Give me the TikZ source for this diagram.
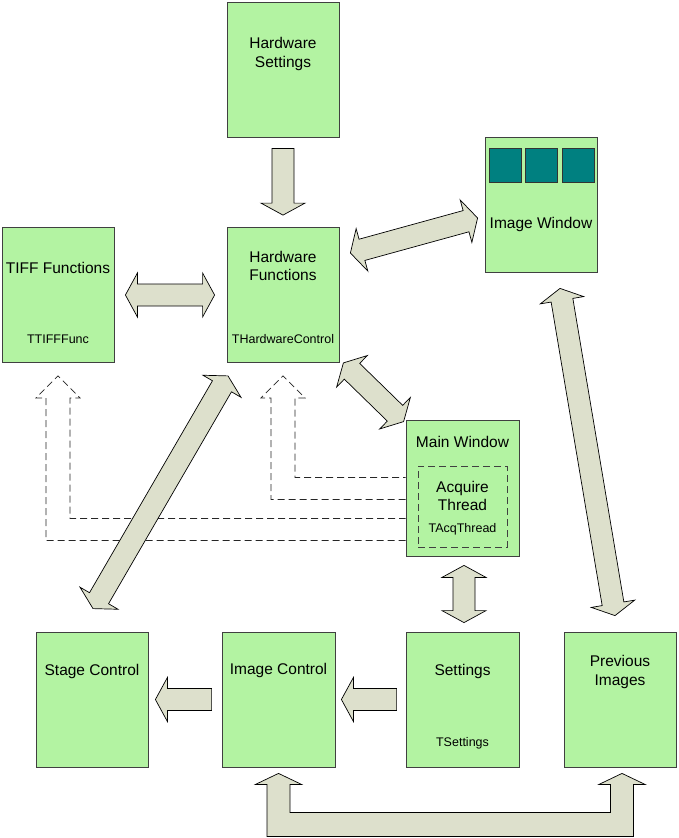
\documentclass[tikz,border=0pt]{standalone}
\usepackage{fontspec}
\setmainfont{Liberation Sans}
\usepackage{tikz}
\usetikzlibrary{calc,positioning}
\definecolor{boxgreen}{RGB}{179,243,162}
\definecolor{arrowgrey}{RGB}{221,224,204}
\definecolor{edgegrey}{RGB}{64,64,64}
\definecolor{thumbteal}{RGB}{0,128,128}
% block arrow, tail #1 to tip #2
\newcommand{\fatone}[2]{%
  \coordinate (hB) at ($(#2)!12pt!(#1)$);
  \draw[fat] ($(#1)!11pt!-90:(#2)$) -- ($(hB)!11pt!90:(#1)$) -- ($(hB)!22pt!90:(#1)$)
    -- (#2) -- ($(hB)!22pt!-90:(#1)$) -- ($(hB)!11pt!-90:(#1)$) -- ($(#1)!11pt!90:(#2)$) -- cycle;}
% block arrow with two heads
\newcommand{\fattwo}[2]{%
  \coordinate (hA) at ($(#1)!12pt!(#2)$);
  \coordinate (hB) at ($(#2)!12pt!(#1)$);
  \draw[fat] (#1) -- ($(hA)!22pt!-90:(#2)$) -- ($(hA)!11pt!-90:(#2)$) -- ($(hB)!11pt!90:(#1)$)
    -- ($(hB)!22pt!90:(#1)$) -- (#2) -- ($(hB)!22pt!-90:(#1)$) -- ($(hB)!11pt!-90:(#1)$)
    -- ($(hA)!11pt!90:(#2)$) -- ($(hA)!22pt!90:(#2)$) -- cycle;}

\begin{document}
\begin{tikzpicture}[x=1pt, y=-1pt,
  box/.style={draw=edgegrey, fill=boxgreen, line width=0.8pt,
              minimum width=112pt, minimum height=135pt, inner sep=0pt},
  thumb/.style={draw=black!80, fill=thumbteal, line width=0.8pt,
                minimum width=32pt, minimum height=34pt, inner sep=0pt},
  ttl/.style={align=center, inner sep=0pt, font=\fontsize{15.5}{18.5}\selectfont},
  sub/.style={inner sep=0pt, font=\fontsize{12.5}{15}\selectfont},
  fat/.style={draw=black, fill=arrowgrey, line width=0.7pt, line join=miter},
  hollow/.style={draw=black!85, line width=0.7pt, dash pattern=on 7pt off 4pt}]
\useasboundingbox (0,0) rectangle (679,838);

% boxes
\node[box] (hs) at (283,69.5) {};
\node[box] (hf) at (283,295) {};
\node[box] (tf) at (58,295) {};
\node[box] (iw) at (541,204.5) {};
\node[box, minimum width=113pt, minimum height=136pt] (mw) at (462.5,488) {};
\node[draw=edgegrey, line width=0.8pt, dash pattern=on 7pt off 4pt,
      minimum width=89pt, minimum height=81pt, inner sep=0pt] (aq) at (462.5,506.5) {};
\node[box] (sc) at (92,699.5) {};
\node[box, minimum width=113pt] (ic) at (278.5,699.5) {};
\node[box, minimum width=113pt] (st) at (462.5,699.5) {};
\node[box] (pi) at (620,699.5) {};

\node[thumb] (th1) at (505,165) {};
\node[thumb] (th2) at (541,165) {};
\node[thumb] (th3) at (578,165) {};

% labels
\node[ttl] (hs-t) at (283,54) {Hardware\\Settings};
\node[ttl] (hf-t) at (283,266) {Hardware\\Functions};
\node[sub] (hf-s) at (283,339.5) {THardwareControl};
\node[ttl] (tf-t) at (58,268) {TIFF Functions};
\node[sub] (tf-s) at (58,339.5) {TTIFFFunc};
\node[ttl] (iw-t) at (541,224) {Image Window};
\node[ttl] (mw-t) at (462.5,442) {Main Window};
\node[ttl] (aq-t) at (462.5,496) {Acquire\\Thread};
\node[sub] (aq-s) at (462.5,529.5) {TAcqThread};
\node[ttl] (sc-t) at (92,671) {Stage Control};
\node[ttl] (ic-t) at (278.5,670) {Image Control};
\node[ttl] (st-t) at (462.5,671) {Settings};
\node[sub] (st-s) at (462.5,743.5) {TSettings};
\node[ttl] (pi-t) at (620,672) {Previous\\Images};

% dashed calls from the acquire thread
\coordinate (ta) at ($(tf.south)+(0,13)$);
\coordinate (tb) at ($(hf.south)+(0,13)$);
\draw[hollow] ($(mw.south west)+(0,-16)$) -| ($(ta)+(-12,22)$) -- ++(-10,0) -- (ta)
  -- ++(22,22) -- ++(-10,0) |- ($(mw.south west)+(0,-38)$);
\draw[hollow] ($(mw.south west)+(0,-57)$) -| ($(tb)+(-12,22)$) -- ++(-10,0) -- (tb)
  -- ++(22,22) -- ++(-10,0) |- ($(mw.south west)+(0,-79)$);

% block arrows
\coordinate (a1) at ($(hs.south)+(0,11)$);
\coordinate (a2) at ($(hf.north)+(0,-12)$);
\fatone{a1}{a2}
\coordinate (b1) at ($(tf.east)+(11,0)$);
\coordinate (b2) at ($(hf.west)+(-12,0)$);
\fattwo{b1}{b2}
\coordinate (c1) at ($(hf.east)+(11,-42)$);
\coordinate (c2) at ($(iw.west)+(-7,13.5)$);
\fattwo{c1}{c2}
\coordinate (d1) at ($(hf.south east)+(4,0)$);
\coordinate (d2) at ($(mw.north west)+(-2,2)$);
\fattwo{d1}{d2}
\coordinate (e1) at ($(sc.north)+(1,-23)$);
\coordinate (e2) at ($(hf.south)+(-55,13)$);
\fattwo{e1}{e2}
\coordinate (f1) at ($(iw.south)+(19,16)$);
\coordinate (f2) at ($(pi.north)+(-5,-16)$);
\fattwo{f1}{f2}
\coordinate (g1) at ($(mw.south)+(1.5,9)$);
\coordinate (g2) at ($(st.north)+(1.5,-9)$);
\fattwo{g1}{g2}
\coordinate (k1) at ($(st.west)+(-9,0)$);
\coordinate (k2) at ($(ic.east)+(6,0)$);
\fatone{k1}{k2}
\coordinate (m1) at ($(ic.west)+(-10,0)$);
\coordinate (m2) at ($(sc.east)+(7,0)$);
\fatone{m1}{m2}

% image control <-> previous images
\coordinate (lt) at ($(ic.south)+(0,6)$);
\coordinate (rt) at ($(pi.south)+(2,6)$);
\draw[fat] (lt) -- ++(-23,11) -- ++(11.5,0) -- ++(0,52) -| ($(rt)+(11.5,11)$) -- ++(11.5,0)
  -- (rt) -- ++(-23,11) -- ++(11.5,0) -- ++(0,28) -| ($(lt)+(11.5,11)$) -- ++(11.5,0) -- cycle;
\end{tikzpicture}
\end{document}
